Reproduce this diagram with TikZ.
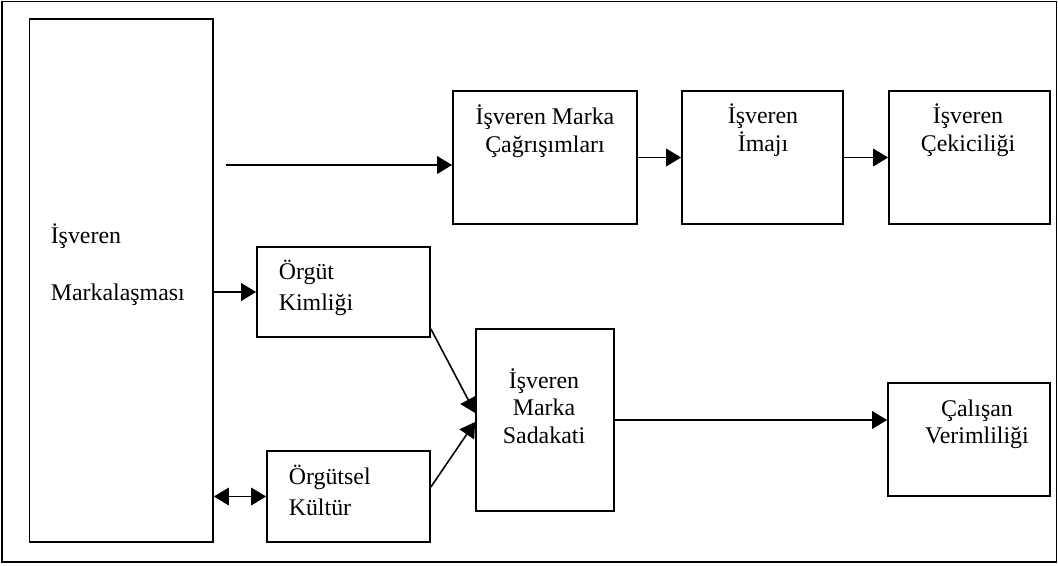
\documentclass[tikz,border=0pt]{standalone}
\usepackage{fontspec}
\setmainfont{Liberation Serif}
\usepackage{tikz}
\usetikzlibrary{arrows.meta,calc}

\begin{document}
\begin{tikzpicture}[x=0.02cm, y=-0.02cm, line width=0.9pt,
                    ok/.style={-{Triangle[length=8.5pt, width=10pt]}, line width=0.9pt},
                    ciftok/.style={{Triangle[length=8.5pt, width=10pt]}-{Triangle[length=8.5pt, width=10pt]}, line width=0.9pt},
                    kutu/.style={rectangle, draw, line width=1pt, inner sep=0pt},
                    yazi/.style={inner sep=0pt, align=center, anchor=base, font=\fontsize{13.6}{15.9}\selectfont}]
                    \useasboundingbox (0,0) rectangle (1058,565);
                    \draw (2,1.5) rectangle (1056.5,562);

                    % Nodes
                    \node[kutu, minimum width=3.67cm, minimum height=10.47cm] (isveren) at (121.25, 280.35) {};
                    \node[kutu, minimum width=3.68cm, minimum height=2.66cm] (cagrisim) at (545, 157.5) {};
                    \node[kutu, minimum width=3.22cm, minimum height=2.66cm] (imaj) at (762.5, 157.5) {};
                    \node[kutu, minimum width=3.22cm, minimum height=2.66cm] (cekicilik) at (969.5, 157.5) {};
                    \node[kutu, minimum width=3.46cm, minimum height=1.8cm] (kimlik) at (343.5, 292) {};
                    \node[kutu, minimum width=3.26cm, minimum height=1.82cm] (kultur) at (348.5, 496.5) {};
                    \node[kutu, minimum width=2.76cm, minimum height=3.64cm] (sadakat) at (545, 420) {};
                    \node[kutu, minimum width=3.24cm, minimum height=2.26cm] (verimlilik) at (969, 439.5) {};

                    % Texts (base = last line)
                    \node[yazi, anchor=base west, align=left, font=\fontsize{13.6}{32.4}\selectfont] (isverenYazi) at (50, 300) {İşveren\\Markalaşması};
                    \node[yazi] (cagrisimYazi) at (545, 152) {İşveren Marka\\Çağrışımları};
                    \node[yazi] (imajYazi) at (763, 151) {İşveren\\İmajı};
                    \node[yazi] (cekicilikYazi) at (968, 151) {İşveren\\Çekiciliği};
                    \node[yazi, anchor=base west, align=left, font=\fontsize{13.6}{17.6}\selectfont] (kimlikYazi) at (278, 310) {Örgüt\\Kimliği};
                    \node[yazi, anchor=base west, align=left, font=\fontsize{13.6}{17.6}\selectfont] (kulturYazi) at (288, 515) {Örgütsel\\Kültür};
                    \node[yazi, font=\fontsize{13.6}{15.4}\selectfont] (sadakatYazi) at (544, 443) {İşveren\\Marka\\Sadakati};
                    \node[yazi, font=\fontsize{13.6}{15.2}\selectfont] (verimlilikYazi) at (977, 443) {Çalışan\\Verimliliği};

                    % Edges
                    \coordinate (ustBas) at (226, 165);
                    \draw[ok] (ustBas) -- (ustBas -| cagrisim.west);
                    \draw[ok] (cagrisim) -- (imaj);
                    \draw[ok] (imaj) -- (cekicilik);
                    \draw[ok] (kimlik.west -| isveren.east) -- (kimlik.west);
                    \draw[ciftok] (kultur.west -| isveren.east) -- (kultur.west);
                    \draw[ok] ($(kimlik.south east)+(0,-9)$) -- ($(sadakat.west)+(0,-7)$);
                    \draw[ok] ($(kultur.east)+(0,-9.5)$) -- ($(sadakat.west)+(0,2)$);
                    \draw[ok] (sadakat.east) -- (sadakat.east -| verimlilik.west);
                \end{tikzpicture}
\end{document}
